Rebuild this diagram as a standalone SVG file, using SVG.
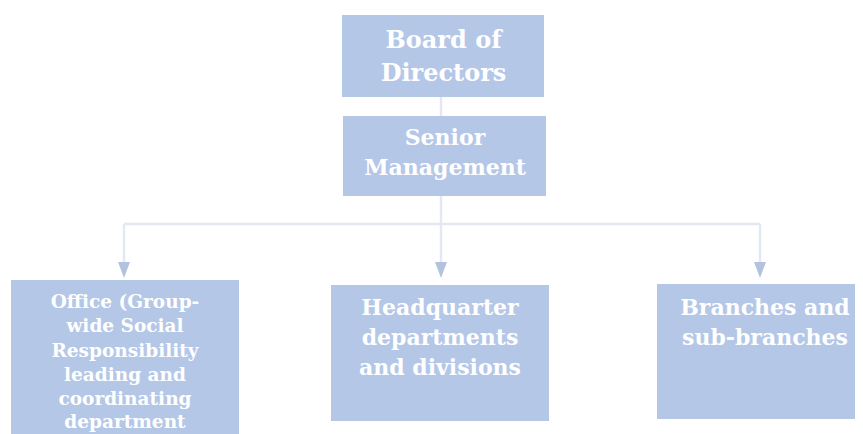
<svg xmlns="http://www.w3.org/2000/svg" width="863" height="434" viewBox="0 0 863 434">
<defs>
<style>
.box{fill:#b4c7e7;}
.t{font-family:"DejaVu Serif","Liberation Serif",serif;font-weight:bold;fill:#ffffff;text-anchor:middle;}
.huge{font-size:24px;}
.big{font-size:22px;}
.small{font-size:18.5px;}
.ln{stroke:#e3e8f3;stroke-width:2.5;fill:none;}
.ah{fill:#b4c3dd;}
</style>
</defs>
<rect width="863" height="434" fill="#ffffff"/>
<g id="connectors">
<line class="ln" x1="441" y1="96" x2="441" y2="116"/>
<line class="ln" x1="441" y1="196" x2="441" y2="224"/>
<line class="ln" x1="124" y1="224" x2="760" y2="224"/>
<path d="M124,224 V262" class="ln"/>
<path d="M441,224 V262" class="ln"/>
<path d="M760,224 V262" class="ln"/>
<path class="ah" d="M118,262 L130,262 L124,278 Z"/>
<path class="ah" d="M435,262 L447,262 L441,278 Z"/>
<path class="ah" d="M754,262 L766,262 L760,278 Z"/>
</g>
<g id="board">
<rect class="box" x="342" y="15" width="202" height="82"/>
<text class="t huge" x="443.5" y="48">Board of</text>
<text class="t huge" x="443.5" y="81">Directors</text>
</g>
<g id="senior">
<rect class="box" x="343" y="116" width="203" height="80"/>
<text class="t big" x="445" y="145">Senior</text>
<text class="t big" x="445" y="175">Management</text>
</g>
<g id="office">
<rect class="box" x="11" y="280" width="228" height="160"/>
<text class="t small" x="125" y="308">Office (Group-</text>
<text class="t small" x="125" y="332">wide Social</text>
<text class="t small" x="125" y="357">Responsibility</text>
<text class="t small" x="125" y="381">leading and</text>
<text class="t small" x="125" y="405">coordinating</text>
<text class="t small" x="125" y="428">department</text>
</g>
<g id="headquarter">
<rect class="box" x="331" y="285" width="218" height="136"/>
<text class="t big" x="440" y="315">Headquarter</text>
<text class="t big" x="440" y="345">departments</text>
<text class="t big" x="440" y="375">and divisions</text>
</g>
<g id="branches">
<rect class="box" x="657" y="284" width="198" height="135"/>
<text class="t big" x="765" y="315">Branches and</text>
<text class="t big" x="765" y="345">sub-branches</text>
</g>
</svg>
